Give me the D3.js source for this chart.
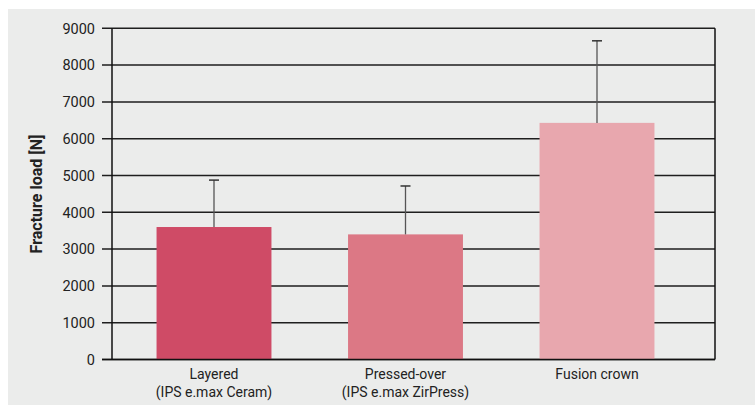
<!DOCTYPE html>
<html><head><meta charset="utf-8">
<script src="https://cdn.jsdelivr.net/npm/d3@7"></script>
<style>
body{margin:0;background:#fff;}
svg{display:block;}
text{font-family:Roboto,"Open Sans",sans-serif;fill:#222;}
</style></head>
<body><svg id="c" width="755" height="405"></svg>
<script>
const categories = ["Layered|(IPS e.max Ceram)", "Pressed-over|(IPS e.max ZirPress)", "Fusion crown"];
const means = [3600, 3400, 6430];
const errTops = [4875, 4715, 8660];
const yTicks = [0,1000,2000,3000,4000,5000,6000,7000,8000,9000];
const colors = ["#cf4b66", "#dc7885", "#e8a7ae"];

const svg = d3.select("#c");
svg.append("rect").attr("x",8).attr("y",9).attr("width",747).attr("height",396).attr("fill","#ebeceb");

const L=112, R=715, T=28.3, B=359.5;
const y = d3.scaleLinear().domain([0,9000]).range([B,T]);
const x = d3.scaleBand().domain(categories).range([118.25,692.75]).paddingInner(0.4).paddingOuter(0.2);

// gridlines + ticks
const g = svg.append("g");
g.selectAll("line.grid").data(yTicks).join("line")
  .attr("x1",102).attr("x2",R).attr("y1",d=>y(d)).attr("y2",d=>y(d))
  .attr("stroke","#1e1e1e").attr("stroke-width",1.5);
g.selectAll("text.tick").data(yTicks).join("text")
  .attr("x",95).attr("y",d=>y(d)).attr("dy","0.36em").attr("text-anchor","end")
  .attr("font-size",14.5).text(d=>d);

// bars
svg.selectAll("rect.bar").data(categories).join("rect")
  .attr("x",d=>x(d)).attr("width",x.bandwidth())
  .attr("y",(d,i)=>y(means[i])).attr("height",(d,i)=>B-y(means[i]))
  .attr("fill",(d,i)=>colors[i]);

// error bars
const eb = svg.selectAll("g.eb").data(categories).join("g");
eb.append("line").attr("x1",d=>x(d)+x.bandwidth()/2).attr("x2",d=>x(d)+x.bandwidth()/2)
  .attr("y1",(d,i)=>y(means[i])).attr("y2",(d,i)=>y(errTops[i]))
  .attr("stroke","#555").attr("stroke-width",1.3);
eb.append("line").attr("x1",d=>x(d)+x.bandwidth()/2-5).attr("x2",d=>x(d)+x.bandwidth()/2+5)
  .attr("y1",(d,i)=>y(errTops[i])).attr("y2",(d,i)=>y(errTops[i]))
  .attr("stroke","#333").attr("stroke-width",1.5);

// axes frame
svg.append("line").attr("x1",L).attr("x2",L).attr("y1",T).attr("y2",B).attr("stroke","#111").attr("stroke-width",1.5);
svg.append("line").attr("x1",R).attr("x2",R).attr("y1",T).attr("y2",B).attr("stroke","#111").attr("stroke-width",1.5);
svg.append("line").attr("x1",102).attr("x2",R).attr("y1",B).attr("y2",B).attr("stroke","#111").attr("stroke-width",1.5);

// category labels
categories.forEach((c,i)=>{
  const lines = c.split("|");
  const cx = x(c)+x.bandwidth()/2;
  const t = svg.append("text").attr("x",cx).attr("y",379).attr("text-anchor","middle").attr("font-size",14);
  lines.forEach((l,j)=>t.append("tspan").attr("x",cx).attr("dy",j?17.5:0).text(l));
});

// y label
svg.append("text").attr("transform","translate(42,194) rotate(-90)").attr("text-anchor","middle")
  .attr("font-size",16).attr("font-weight","bold").text("Fracture load [N]");
</script></body></html>
